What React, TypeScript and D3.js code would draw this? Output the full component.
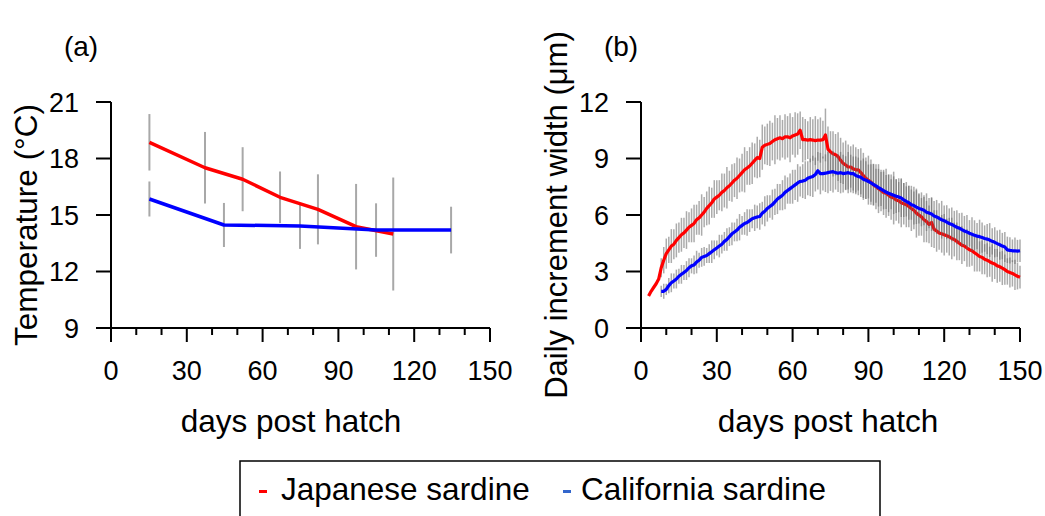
import React from 'react';
import * as d3 from 'd3';

// ---- Panel (a): rearing temperature by sampling age ----
const tempDaysJapanese = [15.2, 37.2, 52.1, 66.9, 81.9, 97.0, 111.7];
const tempJapanese = [18.86, 17.51, 16.9, 15.94, 15.3, 14.38, 13.99];
const tempSdJapanese = [1.5, 1.9, 1.7, 1.37, 1.86, 2.27, 3.0];

const tempDaysCalifornia = [15.2, 44.7, 74.8, 104.9, 134.6];
const tempCalifornia = [15.85, 14.47, 14.42, 14.2, 14.2];
const tempSdCalifornia = [0.93, 1.17, 1.22, 1.42, 1.24];

// ---- Panel (b): daily otolith increment width (µm), one value per day ----
const japaneseFirstDay = 3;
const incJapanese = [
  1.7, 1.95, 2.15, 2.35, 2.6, 3.2, 3.6, 3.95, 4.15, 4.35, 4.45, 4.65, 4.8,
  4.95, 5.05, 5.2, 5.35, 5.45, 5.55, 5.75, 5.85, 6.0, 6.15, 6.35, 6.5, 6.65, 6.85, 6.95,
  7.05, 7.2, 7.3, 7.45, 7.55, 7.7, 7.85, 7.95, 8.1, 8.25, 8.4, 8.5, 8.6, 8.75, 8.9,
  9.05, 9.0, 9.6, 9.7, 9.75, 9.8, 9.9, 10.0, 10.05, 10.1, 10.05, 10.15, 10.15, 10.1,
  10.2, 10.25, 10.3, 10.5, 10.0, 10.0, 9.98, 10.0, 9.98, 9.95, 9.98, 9.98, 10.0, 10.25,
  9.5, 9.35, 9.25, 9.2, 9.1, 8.9, 8.75, 8.65, 8.55, 8.55, 8.45, 8.4, 8.4, 8.25, 8.1,
  7.95, 7.85, 7.75, 7.6, 7.5, 7.4, 7.3, 7.2, 7.15, 7.05, 6.95, 6.9, 6.8, 6.75, 6.65,
  6.6, 6.55, 6.45, 6.35, 6.25, 6.1, 6.0, 5.9, 5.75, 5.65, 5.5, 5.6, 5.25, 5.15, 5.05,
  5.0, 4.95, 4.9, 4.85, 4.75, 4.7, 4.6, 4.5, 4.4, 4.35, 4.25, 4.15, 4.1, 4.0, 3.9,
  3.8, 3.75, 3.65, 3.6, 3.52, 3.45, 3.4, 3.3, 3.25, 3.18, 3.1, 3.0, 2.95, 2.9, 2.82,
  2.75, 2.7,
];
const incSdJapanese = [
  0, 0, 0, 0, 0,
  0.5, 0.7, 0.8, 0.7, 0.9, 0.8, 0.9, 0.8,
  0.9, 0.8, 1.0, 0.8, 0.9, 1.0, 0.8, 0.9, 1.1, 0.8,
  0.9, 1.0, 0.8, 1.0, 0.9, 0.8, 1.0, 0.9, 1.1, 0.8,
  1.0, 0.9, 1.1, 0.9, 1.0, 1.2, 0.9, 1.0, 1.1, 0.9,
  1.1, 1.0, 1.2, 1.0, 1.1, 1.2, 1.0, 1.3, 1.1, 1.2,
  1.0, 1.2, 1.1, 1.3, 1.0, 1.2, 1.1, 1.0, 1.2, 1.1,
  1.0, 1.2, 1.1, 1.3, 1.1, 1.2, 1.0, 1.4, 1.2, 1.1,
  1.2, 1.1, 1.3, 1.2, 1.1, 1.3, 1.2, 1.1, 1.3, 1.2,
  1.1, 1.3, 1.2, 1.1, 1.3, 1.2, 1.1, 1.2, 1.3, 1.1,
  1.2, 1.3, 1.1, 1.2, 1.4, 1.1, 1.2, 1.3, 1.1, 1.2,
  1.1, 1.2, 1.0, 1.3, 1.1, 1.0, 1.2, 1.1, 1.0, 1.3,
  1.0, 1.1, 0.9, 1.0, 1.1, 0.9, 1.0, 1.1, 0.9, 1.0,
  0.9, 1.0, 0.8, 1.0, 0.9, 0.8, 1.0, 0.9, 0.8, 0.9,
  0.8, 0.9, 0.8, 1.0, 0.8, 0.9, 0.8, 0.9, 0.8, 0.7,
  0.8, 0.7, 0.8, 0.7, 0.6,
];

const californiaFirstDay = 8;
const incCalifornia = [
  1.95, 1.95, 2.05, 2.25, 2.4, 2.5, 2.6, 2.75, 2.85, 2.95, 3.05, 3.2, 3.3, 3.35,
  3.5, 3.6, 3.75, 3.8, 3.85, 3.95, 4.05, 4.15, 4.25, 4.35, 4.45, 4.6, 4.7, 4.85,
  5.0, 5.1, 5.2, 5.35, 5.45, 5.55, 5.6, 5.7, 5.8, 5.85, 5.9, 5.92, 6.1, 6.2, 6.35,
  6.45, 6.55, 6.7, 6.85, 6.95, 7.05, 7.2, 7.3, 7.4, 7.5, 7.6, 7.7, 7.78, 7.8, 7.85,
  7.95, 8.0, 8.05, 8.15, 8.35, 8.2, 8.2, 8.22, 8.25, 8.28, 8.3, 8.25, 8.22, 8.25,
  8.2, 8.22, 8.25, 8.2, 8.2, 8.1, 8.05, 8.0, 7.9, 7.85, 7.78, 7.7, 7.62, 7.55, 7.45,
  7.38, 7.3, 7.22, 7.15, 7.1, 7.05, 7.0, 6.95, 6.9, 6.8, 6.72, 6.65, 6.55, 6.5, 6.42,
  6.35, 6.3, 6.25, 6.15, 6.1, 6.05, 5.95, 5.9, 5.82, 5.75, 5.7, 5.62, 5.55, 5.5, 5.42,
  5.35, 5.3, 5.22, 5.15, 5.1, 5.03, 4.98, 4.92, 4.88, 4.85, 4.8, 4.75, 4.72, 4.67,
  4.6, 4.55, 4.48, 4.42, 4.35, 4.3, 4.15, 4.12, 4.1, 4.1, 4.08, 4.1,
];
const incSdCalifornia = [
  0.3, 0.4, 0.3, 0.4, 0.5, 0.4, 0.5, 0.4,
  0.5, 0.4, 0.5, 0.5, 0.4, 0.5, 0.6, 0.4, 0.5, 0.5,
  0.4, 0.5, 0.6, 0.5, 0.4, 0.6, 0.5, 0.5, 0.6, 0.5,
  0.6, 0.5, 0.6, 0.7, 0.5, 0.6, 0.7, 0.6, 0.5, 0.7,
  0.6, 0.7, 0.6, 0.8, 0.7, 0.6, 0.8, 0.7, 0.8, 0.7,
  0.8, 0.9, 0.7, 0.8, 0.9, 0.8, 1.0, 0.8, 0.9, 1.0,
  0.9, 1.0, 1.1, 0.9, 1.0, 1.1, 0.9, 1.0, 1.1, 1.0,
  1.1, 0.9, 1.0, 1.1, 1.0, 0.9, 1.1, 1.0, 0.9, 1.0,
  1.0, 0.9, 1.1, 1.0, 0.9, 1.0, 1.1, 0.9, 1.0, 0.9,
  1.0, 0.9, 1.0, 0.8, 1.0, 0.9, 0.8, 1.0, 0.9, 0.8,
  0.9, 0.8, 1.0, 0.9, 0.8, 0.9, 0.8, 1.0, 0.8, 0.9,
  0.8, 0.9, 0.8, 1.0, 0.8, 0.9, 0.8, 0.9, 0.8, 0.9,
  0.8, 0.9, 0.8, 0.9, 0.7, 0.9, 0.8, 0.7, 0.9, 0.8,
  0.7, 0.8, 0.9, 0.7, 0.8, 0.7, 0.8, 0.7, 0.8, 0.7,
  0.7, 0.6, 0.7, 0.6, 0.6,
];

// ---- axes / labels ----
const xTicksMajor = [0, 30, 60, 90, 120, 150];
const xTicksMinor = [10, 20, 40, 50, 70, 80, 100, 110, 130, 140];
const tempTicks = [9, 12, 15, 18, 21];
const incTicks = [0, 3, 6, 9, 12];
const xTitle = 'days post hatch';
const tempTitle = 'Temperature (°C)';
const incTitle = 'Daily increment width (μm)';
const legendLabels = ['Japanese sardine', 'California sardine'];

const RED = '#ff0000';
const BLUE = '#0000ff';
const FONT = '"Liberation Sans", Arial, Helvetica, sans-serif';

const TOP = 102;
const BOTTOM = 328;

type Pt = { x: number; y: number; sd: number };

function toPoints(days: number[], vals: number[], sds: number[]): Pt[] {
  return days.map((d, i) => ({ x: d, y: vals[i], sd: sds[i] }));
}
function dailyPoints(first: number, vals: number[], sds: number[]): Pt[] {
  return vals.map((v, i) => ({ x: first + i, y: v, sd: sds[i] }));
}

function Axes({ x, y, yTicks }: { x: d3.ScaleLinear<number, number>; y: d3.ScaleLinear<number, number>; yTicks: number[] }) {
  const [x0, x1] = x.range();
  const [yb, yt] = y.range();
  const tx = x0 - 32;
  return (
    <g stroke="#000" strokeWidth={2}>
      <line x1={x0} x2={x0} y1={yt} y2={yb} />
      <line x1={x0} x2={x1} y1={yb} y2={yb} />
      {yTicks.map((t) => (
        <line key={'yt' + t} x1={x0 - 15} x2={x0} y1={y(t)} y2={y(t)} />
      ))}
      {xTicksMajor.map((t) => (
        <line key={'xM' + t} x1={x(t)} x2={x(t)} y1={yb} y2={yb + 14} />
      ))}
      {xTicksMinor.map((t) => (
        <line key={'xm' + t} x1={x(t)} x2={x(t)} y1={yb} y2={yb + 7} />
      ))}
      <g stroke="none" fill="#000" fontFamily={FONT} fontSize={27}>
        {yTicks.map((t) => (
          <text key={'yl' + t} x={tx} y={y(t)} dy="0.36em" textAnchor="end">
            {t}
          </text>
        ))}
        {xTicksMajor.map((t) => (
          <text key={'xl' + t} x={x(t)} y={380} textAnchor="middle">
            {t}
          </text>
        ))}
      </g>
    </g>
  );
}

function ErrorBars({ pts, x, y, color, width, opacity }: { pts: Pt[]; x: any; y: any; color: string; width: number; opacity: number }) {
  return (
    <g stroke={color} strokeWidth={width} strokeOpacity={opacity}>
      {pts
        .filter((p) => p.sd > 0)
        .map((p, i) => (
          <line key={i} x1={x(p.x)} x2={x(p.x)} y1={y(p.y - p.sd)} y2={y(p.y + p.sd)} />
        ))}
    </g>
  );
}

export default function App() {
  const xa = d3.scaleLinear().domain([0, 150]).range([111, 490]);
  const ya = d3.scaleLinear().domain([9, 21]).range([BOTTOM, TOP]);
  const xb = d3.scaleLinear().domain([0, 150]).range([641, 1020]);
  const yb = d3.scaleLinear().domain([0, 12]).range([BOTTOM, TOP]);

  const aJap = toPoints(tempDaysJapanese, tempJapanese, tempSdJapanese);
  const aCal = toPoints(tempDaysCalifornia, tempCalifornia, tempSdCalifornia);
  const bJap = dailyPoints(japaneseFirstDay, incJapanese, incSdJapanese);
  const bCal = dailyPoints(californiaFirstDay, incCalifornia, incSdCalifornia);

  const lineA = d3.line<Pt>().x((p) => xa(p.x)).y((p) => ya(p.y));
  const lineB = d3.line<Pt>().x((p) => xb(p.x)).y((p) => yb(p.y));

  return (
    <svg
      width={1045}
      height={516}
      viewBox="0 0 1045 516"
      style={{ position: 'absolute', left: 0, top: 0, background: '#fff' }}
    >
      <rect x={0} y={0} width={1045} height={516} fill="#fff" />

      {/* panel (a) */}
      <ErrorBars pts={aJap} x={xa} y={ya} color="#a8a8a8" width={2} opacity={1} />
      <ErrorBars pts={aCal} x={xa} y={ya} color="#a8a8a8" width={2} opacity={1} />
      <path d={lineA(aJap) || ''} fill="none" stroke={RED} strokeWidth={3.5} strokeLinejoin="round" />
      <path d={lineA(aCal) || ''} fill="none" stroke={BLUE} strokeWidth={3.5} strokeLinejoin="round" />
      <Axes x={xa} y={ya} yTicks={tempTicks} />

      {/* panel (b) */}
      <ErrorBars pts={bJap} x={xb} y={yb} color="#666" width={1.5} opacity={0.55} />
      <path d={lineB(bJap) || ''} fill="none" stroke={RED} strokeWidth={3.2} strokeLinejoin="round" />
      <ErrorBars pts={bCal} x={xb} y={yb} color="#666" width={1.5} opacity={0.55} />
      <path d={lineB(bCal) || ''} fill="none" stroke={BLUE} strokeWidth={3.2} strokeLinejoin="round" />
      <Axes x={xb} y={yb} yTicks={incTicks} />

      {/* titles */}
      <g fontFamily={FONT} fill="#000">
        <text x={81} y={56} fontSize={28} textAnchor="middle">(a)</text>
        <text x={621} y={56} fontSize={28} textAnchor="middle">(b)</text>
        <text x={291} y={432} fontSize={31.5} textAnchor="middle">{xTitle}</text>
        <text x={828} y={432} fontSize={31.5} textAnchor="middle">{xTitle}</text>
        <text transform="translate(37,225) rotate(-90)" fontSize={31.5} textAnchor="middle">{tempTitle}</text>
        <text transform="translate(567,215) rotate(-90)" fontSize={31} textAnchor="middle">{incTitle}</text>
      </g>

      {/* legend */}
      <rect x={240} y={461} width={640} height={80} fill="#fff" stroke="#000" strokeWidth={1.5} />
      <rect x={259} y={490} width={8} height={3} fill={RED} />
      <text x={281} y={500} fontFamily={FONT} fontSize={31.5} fill="#000">{legendLabels[0]}</text>
      <rect x={563} y={490} width={8} height={3} fill="#3366cc" />
      <text x={581} y={500} fontFamily={FONT} fontSize={31.5} fill="#000">{legendLabels[1]}</text>
    </svg>
  );
}
